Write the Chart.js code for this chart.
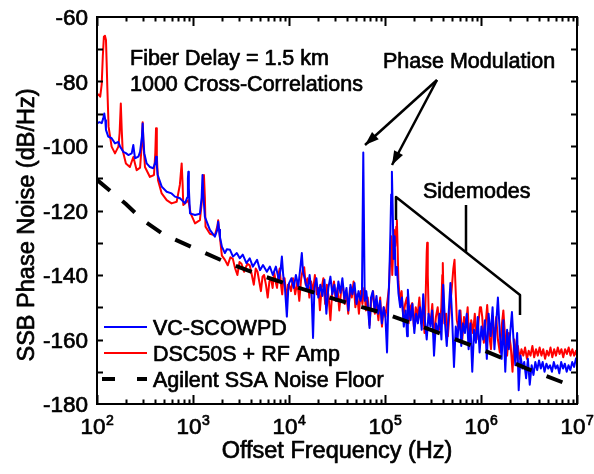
<!DOCTYPE html>
<html>
<head>
<meta charset="utf-8">
<script src="https://cdn.jsdelivr.net/npm/chart.js@4.4.0/dist/chart.umd.min.js"></script>
<style>
    html, body { margin: 0; padding: 0; background: #fff; }
    #myChart { display: block; }
</style>
</head>
<body>
<canvas id="myChart" width="594" height="474"></canvas>
<script>
// VC-SCOWPD (blue)
const blueFreq = [
    100, 106, 112, 116, 119, 122, 124, 131, 142, 154, 167, 174, 188, 200, 212, 230, 236, 239, 243, 249,
    270, 281, 294, 299, 304, 311, 329, 356, 386, 405, 412, 420, 428, 472, 532, 598, 649, 732, 825, 870,
    885, 894, 905, 931, 1050, 1180, 1230, 1256, 1280, 1330, 1500, 1690, 1790, 1830, 1870, 1910, 2000, 2150, 2250, 2430,
    2610, 2860, 3070, 3300, 3600, 3900, 4200, 4650, 4990, 5360, 5880, 6320, 6790, 7300, 7840, 8200, 8430, 8700, 9060, 9500,
    9800, 10000, 10600, 11200, 11800, 12500, 13200, 13600, 14000, 14800, 15600, 16400, 17200, 17800, 18400, 19300, 20200, 21200, 22300, 23400,
    24500, 25700, 27000, 28300, 29700, 31200, 32700, 34300, 36000, 37800, 39700, 41600, 43700, 45800, 48100, 50500, 53000, 55600, 57500, 59400,
    61500, 63800, 66500, 69000, 71500, 74700, 78000, 81500, 85000, 88800, 92700, 96800, 101000, 105000, 108000, 111000, 114000, 116000, 118000, 120000,
    123000, 126000, 129000, 133000, 138000, 144000, 150000, 157000, 164000, 170000, 173000, 178000, 185000, 193000, 202000, 211000, 220000, 231000, 241000, 250000,
    260000, 272000, 284000, 297000, 310000, 324000, 339000, 354000, 370000, 387000, 404000, 422000, 440000, 460000, 480000, 500000, 523000, 546000, 570000, 596000,
    623000, 651000, 680000, 711000, 743000, 776000, 811000, 847000, 885000, 925000, 967000, 1010000, 1055000, 1100000, 1150000, 1200000, 1260000, 1320000, 1380000, 1440000,
    1500000, 1570000, 1640000, 1710000, 1790000, 1870000, 1950000, 2040000, 2100000, 2180000, 2280000, 2380000, 2470000, 2580000, 2700000, 2820000, 2950000, 3080000, 3220000, 3370000,
    3520000, 3680000, 3850000, 4020000, 4200000, 4390000, 4590000, 4800000, 5020000, 5240000, 5480000, 5730000, 5990000, 6260000, 6540000, 6840000, 7150000, 7470000, 7810000, 8160000,
    8530000, 8920000, 9320000, 9740000, 10000000
];
const blueDb = [
    -93.0, -92.6, -92.9, -91.5, -89.9, -92, -95, -97.1, -97.6, -99.2, -98.7, -100.2, -101.8, -102.2, -102.8, -102.3, -100.5, -99.7, -101.5, -103.8,
    -103.3, -101.8, -97, -93, -98, -102.3, -105.4, -106.5, -106.9, -105, -103.3, -106, -108.9, -112.6, -114.2, -114.7, -115.7, -116.2, -117.8, -116,
    -110, -108, -113, -120.9, -121.4, -121, -116, -109, -115, -122, -126, -128.1, -126, -123.5, -126, -128.3, -131.2, -133.2, -132, -132.2,
    -134.3, -133.2, -134.8, -133.7, -136.3, -134.8, -137.4, -135.3, -138.5, -136.9, -139, -137.4, -140, -137.4, -141.6, -138, -134.3, -140, -143.6, -152.9,
    -145, -142.6, -141, -144, -140, -143.5, -137, -133.2, -139, -142, -145, -140, -146, -159.5, -144, -141, -147, -143, -146.5, -141.5,
    -152, -144, -140.5, -146, -143, -148, -142, -145.5, -141, -147.5, -144, -151, -143, -146, -142.5, -149, -145, -148, -146, -102,
    -148, -145, -150, -156.4, -147, -145, -151, -146.5, -152, -148, -155, -150, -153, -164, -150, -140, -126, -115, -108, -118,
    -135, -128, -140, -137.5, -145.6, -150, -147, -156, -151, -159, -144.6, -150, -154, -149, -158, -152, -155, -150, -157, -146,
    -154, -160, -152, -156, -151, -165, -155, -158, -152, -160, -143, -155, -162, -152, -142.5, -153, -168.5, -156, -160, -151,
    -162, -155, -158, -152, -163, -155, -170, -157, -161, -153, -164, -156, -160, -154, -166, -152, -159, -150, -163, -155,
    -147, -158, -166, -154, -170, -157, -163, -156, -151.5, -160, -168, -158, -175.7, -165, -169, -167, -172, -166, -174, -168,
    -171, -167, -169.5, -166.5, -169, -167, -170, -167.5, -169, -168, -170, -167, -169, -168, -170.5, -167, -169, -167.5, -170, -168,
    -169.5, -167, -168.5, -166, -165.5
];

// DSC50S + RF Amp (red)
const redFreq = [
    100, 104, 108, 112, 115, 118, 121, 124, 126, 128, 132, 142, 154, 167, 172, 177, 181, 185, 200, 220,
    239, 259, 281, 292, 299, 306, 316, 356, 392, 405, 412, 420, 432, 472, 532, 598, 676, 730, 762, 780,
    792, 894, 945, 1050, 1180, 1260, 1300, 1330, 1350, 1500, 1690, 1790, 1830, 1870, 1910, 2000, 2150, 2300, 2450, 2600,
    2750, 2900, 3050, 3200, 3400, 3500, 3700, 3900, 4100, 4300, 4500, 4700, 4900, 5100, 5300, 5500, 5750, 6000, 6250, 6500,
    6750, 7000, 7250, 7500, 7750, 8000, 8250, 8500, 8750, 9000, 9250, 9500, 9750, 10000, 10500, 11000, 11600, 12200, 12800, 13400,
    14000, 14400, 14900, 15600, 16300, 17000, 17800, 18600, 19500, 20300, 21000, 21900, 22800, 23800, 24800, 25900, 27000, 28200, 29400, 30700,
    32000, 33400, 34900, 36400, 38000, 39700, 41400, 43200, 45100, 47100, 49100, 51300, 53500, 55800, 58200, 60700, 63300, 66100, 69000, 72000,
    75100, 78400, 81800, 85400, 89100, 93000, 97000, 101000, 106000, 110000, 113000, 116000, 119000, 124000, 128000, 131000, 133000, 135000, 138000, 143000,
    149000, 155000, 162000, 169000, 176000, 184000, 192000, 200000, 209000, 218000, 228000, 238000, 248000, 258000, 266000, 272000, 275000, 279000, 285000, 298000,
    311000, 325000, 339000, 354000, 370000, 386000, 395000, 400000, 405000, 415000, 433000, 452000, 472000, 493000, 515000, 530000, 540000, 560000, 585000, 611000,
    638000, 666000, 695000, 726000, 758000, 791000, 826000, 862000, 900000, 940000, 975000, 1000000, 1030000, 1070000, 1120000, 1160000, 1210000, 1270000, 1320000, 1380000,
    1440000, 1500000, 1570000, 1640000, 1710000, 1790000, 1870000, 1950000, 2040000, 2130000, 2220000, 2320000, 2420000, 2530000, 2640000, 2760000, 2880000, 3010000, 3140000, 3280000,
    3430000, 3580000, 3740000, 3910000, 4080000, 4260000, 4450000, 4650000, 4860000, 5070000, 5300000, 5530000, 5780000, 6040000, 6310000, 6590000, 6880000, 7190000, 7510000, 7840000,
    8190000, 8560000, 8940000, 9340000, 9760000, 10000000
];
const redDb = [
    -84.2, -84, -84.7, -80.8, -72, -66.1, -65.8, -67.1, -74, -81.5, -94, -100.2, -102.3, -100.2, -96, -86.8, -95, -101.3, -105.4, -106.5,
    -103.4, -107.5, -106.7, -100, -92.6, -100, -106.5, -109.6, -109, -102, -94.5, -103, -110.6, -114.7, -116.8, -117.8, -117.3, -112, -105.4, -112,
    -118.3, -116.8, -120.9, -124, -123, -115, -109, -116, -125, -127.2, -127.7, -125, -123, -126, -128.6, -134, -135.3, -137, -134.5, -135,
    -138, -140, -136, -136.5, -139, -138, -136.5, -137, -140, -143, -138, -139, -142, -145, -140.5, -140, -143, -147, -142, -141,
    -144, -139, -142, -144, -140, -138, -143, -146, -141, -141, -145, -148, -143, -143, -145, -141, -146, -142, -148, -141,
    -138, -137.6, -143, -141, -147, -142, -145, -140, -146, -144, -150.9, -144, -141, -149, -143, -147, -154, -145, -142, -148,
    -144, -151, -145, -143, -149, -146, -152, -144, -147, -142, -150, -146, -152, -145, -149, -144, -151, -147, -155.5, -148,
    -145, -152, -149, -154, -147, -156, -150, -153, -148, -144, -135, -128, -140, -126, -131, -125, -123, -130, -142, -148,
    -145, -153, -149, -147, -155, -150, -148.7, -156, -150, -153, -147, -155, -150, -158, -145, -133, -130, -140, -152, -155,
    -149, -160, -153, -150, -157, -150, -140, -136.3, -144, -155, -152, -159, -151, -145, -138, -135.3, -142, -154, -157, -151,
    -160, -153, -156, -150, -162, -154, -158, -152, -160, -155, -150, -150, -153, -161, -155, -149.3, -158, -163, -155, -159,
    -153, -160, -164, -156, -151, -160, -165, -158, -162, -170, -160, -164, -162, -166, -163, -165, -162.5, -166, -163.5, -165,
    -162, -165.5, -163, -165, -162.5, -165, -163, -166, -163.5, -165, -162.5, -165.5, -163, -165, -162.5, -164.5, -163, -165.5, -163, -164.5,
    -162.5, -165, -163, -165, -163.5, -165
];

// Agilent SSA noise floor (black dashed)
const floorFreq = [100, 200, 300, 500, 1000, 2000, 5000, 10000, 30000, 100000, 300000, 1000000, 3000000, 10000000];
const floorDb = [-110.5, -118, -123, -127.5, -131.5, -135.5, -140, -143, -147.5, -152, -157, -163, -169, -175];

const seriesNames = ['VC-SCOWPD', 'DSC50S + RF Amp', 'Agilent SSA Noise Floor'];
const xDecades = [2, 3, 4, 5, 6, 7];
const yTicks = [-180, -160, -140, -120, -100, -80, -60];

const FONT = '"Liberation Sans", Arial, Helvetica, sans-serif';

function toPoints(freq, db) {
    let pts = [];
    for (let i = 0; i < freq.length; i++) {
        pts.push({x: freq[i], y: db[i]});
    }
    return pts;
}

// fill + thin stroke gives the medium weight of the original lettering
function heavyText(ctx, txt, x, y) {
    ctx.fillText(txt, x, y);
    ctx.strokeText(txt, x, y);
}

function arrow(ctx, x1, y1, x2, y2) {
    ctx.beginPath();
    ctx.moveTo(x1, y1);
    ctx.lineTo(x2, y2);
    ctx.stroke();
    let a = Math.atan2(y2 - y1, x2 - x1);
    let len = 14, half = 5;
    ctx.beginPath();
    ctx.moveTo(x2, y2);
    ctx.lineTo(x2 - len * Math.cos(a) + half * Math.sin(a), y2 - len * Math.sin(a) - half * Math.cos(a));
    ctx.lineTo(x2 - len * Math.cos(a) - half * Math.sin(a), y2 - len * Math.sin(a) + half * Math.cos(a));
    ctx.closePath();
    ctx.fill();
}

// frame, inward ticks, labels, legend and annotations
const decorPlugin = {
    id: 'decor',
    afterDraw(chart) {
        const ctx = chart.ctx;
        const area = chart.chartArea;
        const xs = chart.scales.x;
        const ys = chart.scales.y;
        ctx.save();
        ctx.strokeStyle = '#000';
        ctx.fillStyle = '#000';
        ctx.lineWidth = 2;
        ctx.strokeRect(area.left, area.top, area.right - area.left, area.bottom - area.top);

        // x ticks (top and bottom)
        ctx.beginPath();
        for (let d = 2; d <= 7; d++) {
            for (let k = 1; k <= 9; k++) {
                if (d === 7 && k > 1) break;
                let px = Math.round(xs.getPixelForValue(k * Math.pow(10, d))) + 0.5;
                let len = k === 1 ? 9 : 4.5;
                ctx.moveTo(px, area.bottom);
                ctx.lineTo(px, area.bottom - len);
                ctx.moveTo(px, area.top);
                ctx.lineTo(px, area.top + len);
            }
        }
        // y ticks every 10 dB (left and right)
        for (let v = -170; v <= -70; v += 10) {
            let py = Math.round(ys.getPixelForValue(v)) + 0.5;
            ctx.moveTo(area.left, py);
            ctx.lineTo(area.left + 6, py);
            ctx.moveTo(area.right, py);
            ctx.lineTo(area.right - 6, py);
        }
        ctx.stroke();

        ctx.lineWidth = 0.7;
        ctx.lineJoin = 'round';

        // y tick labels
        ctx.font = '22.5px ' + FONT;
        ctx.textAlign = 'right';
        ctx.textBaseline = 'alphabetic';
        yTicks.forEach(function(v) {
            heavyText(ctx, String(v), area.left - 9, ys.getPixelForValue(v) + 8);
        });

        // x tick labels 10^n
        ctx.textAlign = 'left';
        xDecades.forEach(function(d) {
            let px = xs.getPixelForValue(Math.pow(10, d));
            ctx.font = '22.5px ' + FONT;
            let w1 = ctx.measureText('10').width;
            ctx.font = '14px ' + FONT;
            let w2 = ctx.measureText(String(d)).width;
            let x0 = px - (w1 + w2) / 2;
            ctx.font = '22.5px ' + FONT;
            heavyText(ctx, '10', x0, 434);
            ctx.font = '14px ' + FONT;
            heavyText(ctx, String(d), x0 + w1 + 0.5, 425);
        });

        // axis titles
        ctx.font = '23.5px ' + FONT;
        ctx.textAlign = 'center';
        heavyText(ctx, 'Offset Frequency (Hz)', (area.left + area.right) / 2, 458);
        ctx.save();
        ctx.translate(34, 225);
        ctx.rotate(-Math.PI / 2);
        heavyText(ctx, 'SSB Phase Noise (dB/Hz)', 0, 0);
        ctx.restore();

        // annotations
        ctx.font = '21.5px ' + FONT;
        ctx.textAlign = 'left';
        heavyText(ctx, 'Fiber Delay = 1.5 km', 130, 65);
        heavyText(ctx, '1000 Cross-Correlations', 130, 91);
        heavyText(ctx, 'Phase Modulation', 383, 68);
        heavyText(ctx, 'Sidemodes', 423, 198);

        ctx.lineWidth = 2.5;
        arrow(ctx, 437, 80, 365, 145);
        arrow(ctx, 437, 80, 392, 165);

        ctx.beginPath();
        ctx.moveTo(396, 220);
        ctx.lineTo(396, 197);
        ctx.lineTo(520, 295);
        ctx.lineTo(520, 315);
        ctx.moveTo(466, 205);
        ctx.lineTo(466, 252);
        ctx.stroke();

        // legend
        const legendColors = ['#0000ff', '#ff0000', '#000000'];
        const legendY = [327, 353, 379];
        for (let i = 0; i < 3; i++) {
            ctx.strokeStyle = legendColors[i];
            ctx.beginPath();
            if (i < 2) {
                ctx.lineWidth = 2;
                ctx.moveTo(104, legendY[i]);
                ctx.lineTo(147, legendY[i]);
            } else {
                ctx.lineWidth = 4;
                ctx.moveTo(102, legendY[i]);
                ctx.lineTo(115, legendY[i]);
                ctx.moveTo(137, legendY[i]);
                ctx.lineTo(147, legendY[i]);
            }
            ctx.stroke();
            ctx.strokeStyle = '#000';
            ctx.lineWidth = 0.7;
            heavyText(ctx, seriesNames[i], 153, legendY[i] + 8);
        }
        ctx.restore();
    }
};

function createChart(chartId) {
    let ctx = document.getElementById(chartId).getContext('2d');
    const config = {
        type: 'scatter',
        data: {
            datasets: [
                {
                    label: seriesNames[2],
                    data: toPoints(floorFreq, floorDb),
                    showLine: true,
                    borderColor: '#000',
                    borderWidth: 4,
                    borderDash: [17, 16],
                    pointRadius: 0,
                    order: 0
                },
                {
                    label: seriesNames[0],
                    data: toPoints(blueFreq, blueDb),
                    showLine: true,
                    borderColor: '#0000ff',
                    borderWidth: 2,
                    borderJoinStyle: 'round',
                    pointRadius: 0,
                    order: 1
                },
                {
                    label: seriesNames[1],
                    data: toPoints(redFreq, redDb),
                    showLine: true,
                    borderColor: '#ff0000',
                    borderWidth: 2,
                    borderJoinStyle: 'round',
                    pointRadius: 0,
                    order: 2
                }
            ]
        },
        options: {
            responsive: false,
            animation: false,
            devicePixelRatio: 1,
            layout: {
                padding: {left: 97, right: 17, top: 17, bottom: 70}
            },
            plugins: {
                legend: {display: false},
                tooltip: {enabled: false}
            },
            scales: {
                x: {
                    type: 'logarithmic',
                    min: 100,
                    max: 10000000,
                    display: false
                },
                y: {
                    type: 'linear',
                    min: -180,
                    max: -60,
                    display: false
                }
            }
        },
        plugins: [decorPlugin]
    };
    new Chart(ctx, config);
}

createChart('myChart');
</script>
</body>
</html>
